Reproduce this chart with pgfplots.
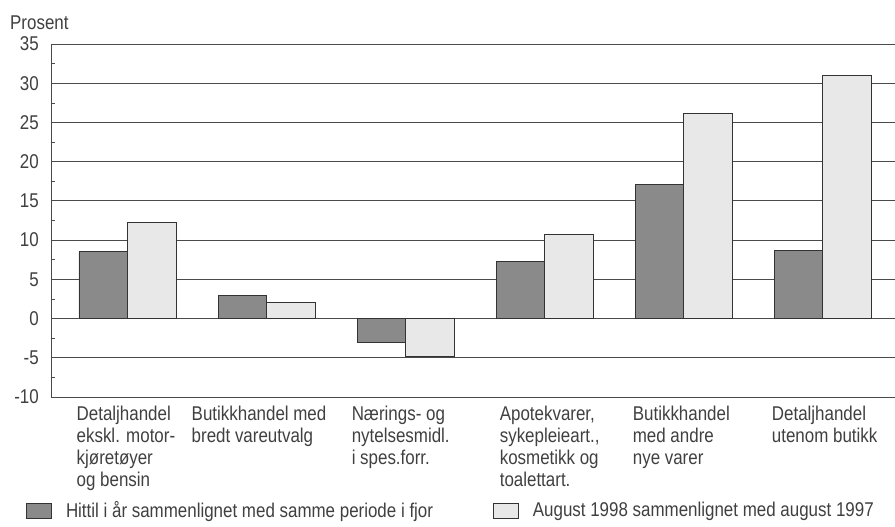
\documentclass[border=0pt]{standalone}
\usepackage{fontspec}
\setmainfont[FakeStretch=0.85]{Liberation Sans}
\usepackage{pgfplots}
\pgfplotsset{compat=1.18}
\definecolor{txt}{HTML}{404040}
\definecolor{gridc}{HTML}{4A4A4A}
\definecolor{darkbar}{HTML}{8A8A8A}
\definecolor{lightbar}{HTML}{E8E8E8}
\definecolor{edge}{HTML}{333333}
\begin{document}
\begin{tikzpicture}[x=1bp,y=1bp]
\path[use as bounding box] (-51,-130) rectangle (844,397);
\begin{axis}[
  at={(0,0)}, anchor=south west,
  scale only axis, width=844bp, height=353bp,
  ymin=-10, ymax=35,
  xmin=-0.55, xmax=5.52,
  ytick={-10,-5,...,35},
  minor ytick={-7.5,-2.5,...,32.5},
  ymajorgrids,
  major grid style={gridc, line width=0.9bp},
  axis lines*=left,
  axis line style={-, gridc, line width=0.9bp},
  y tick style={gridc, line width=0.6bp},
  major tick length=0pt,
  minor tick length=4bp,
  tick align=inside,
  x tick style={draw=none},
  ybar=0pt, bar width=48.5bp,
  xtick={0,1,2,3,4,5},
  xticklabels={
    {Detaljhandel\\ekskl. motor-\\kjøretøyer\\og bensin},
    {\hspace*{-24bp}Butikkhandel med\\\hspace*{-24bp}bredt vareutvalg},
    {\hspace*{-3bp}Nærings- og\\\hspace*{-3bp}nytelsesmidl.\\\hspace*{-3bp}i spes.forr.},
    {\hspace*{6bp}Apotekvarer,\\\hspace*{6bp}sykepleieart.,\\\hspace*{6bp}kosmetikk og\\\hspace*{6bp}toalettart.},
    {Butikkhandel\\med andre\\nye varer},
    {Detaljhandel\\utenom butikk}},
  xticklabel style={anchor=north west, align=left, inner sep=0pt,
    xshift=-51bp, yshift=-9bp, text=txt,
    font=\fontsize{20}{22}\selectfont},
  yticklabel style={text=txt, font=\fontsize{20}{20}\selectfont, inner sep=0pt, xshift=-12bp},
  /pgf/number format/assume math mode=true,
  legend columns=2,
  legend style={at={(axis description cs:-0.0296,-0.3215)}, anchor=west,
    draw=none, fill=none, inner sep=0pt,
    font=\fontsize{20}{20}\selectfont, text=txt,
    /tikz/every odd column/.append style={column sep=12bp},
    /tikz/every even column/.append style={column sep=58bp}},
  legend image code/.code={\draw[#1] (0bp,-7.5bp) rectangle (25bp,7.5bp);},
  clip=false,
]
\addplot[fill=darkbar, draw=edge, line width=0.8bp] coordinates
  {(0,8.5) (1,3.0) (2,-3.0) (3,7.3) (4,17.1) (5,8.7)};
\addplot[fill=lightbar, draw=edge, line width=0.8bp] coordinates
  {(0,12.2) (1,2.0) (2,-4.8) (3,10.7) (4,26.2) (5,31.0)};
\legend{Hittil i år sammenlignet med samme periode i fjor,
        August 1998 sammenlignet med august 1997}
\node[anchor=base west, text=txt, font=\fontsize{20}{20}\selectfont, inner sep=0pt]
  at (axis description cs:-0.0486,1.0397) {Prosent};
\end{axis}
\end{tikzpicture}
\end{document}
